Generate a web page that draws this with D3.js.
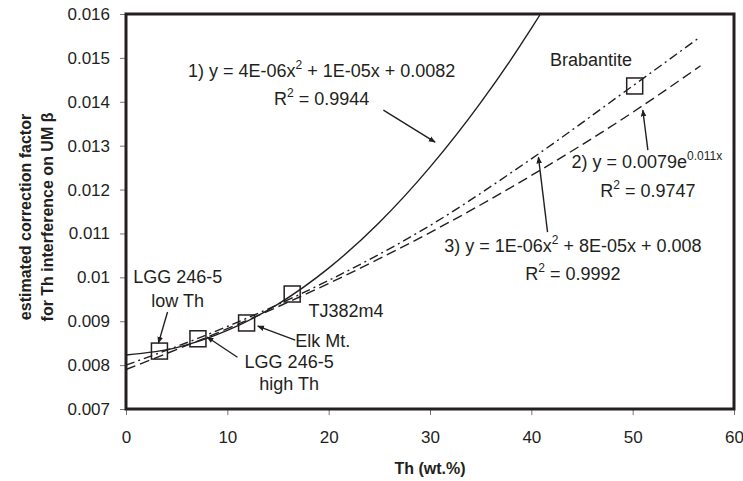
<!DOCTYPE html>
<html>
<head>
<meta charset="utf-8">
<script src="https://cdn.jsdelivr.net/npm/d3@7"></script>
<style>
	body { margin: 0; background: #fff; }
	svg { display: block; font-family: "Liberation Sans", Arial, sans-serif; }
	.axis text { font-size: 17px; fill: #231f20; }
	.axis line { stroke: #777; }
	.note { font-size: 18px; fill: #231f20; }
	.title { font-size: 16px; font-weight: bold; fill: #231f20; }
</style>
</head>
<body>
<svg id="chart" width="743" height="481"></svg>
<script>
"use strict";

// Tick labels
var xTicks = [0, 10, 20, 30, 40, 50, 60];
var yTicks = [0.007, 0.008, 0.009, 0.010, 0.011, 0.012, 0.013, 0.014, 0.015, 0.016];

// Measured samples (boxes)
var sampleNames = ["LGG 246-5 low Th", "LGG 246-5 high Th", "Elk Mt.", "TJ382m4", "Brabantite"];
var sampleTh = [3.3, 7.1, 11.9, 16.4, 50.2];
var sampleFactor = [0.00832, 0.00860, 0.00896, 0.00962, 0.01436];

// Trend lines
// 1) polynomial, solid
var fit1Th = [0, 5, 10, 15, 20, 25, 30, 35, 40, 40.9];
var fit1Factor = [0.00823, 0.00840, 0.00879, 0.00939, 0.01021, 0.01125, 0.01251, 0.01398, 0.01567, 0.0160];
// 2) exponential, dashed
var fit2Th = [0, 10, 20, 30, 40, 50, 56.7];
var fit2Factor = [0.00790, 0.00883, 0.00986, 0.01102, 0.01232, 0.01376, 0.01482];
// 3) polynomial, dash-dot
var fit3Th = [0, 10, 20, 30, 40, 50, 56.5];
var fit3Factor = [0.00800, 0.00888, 0.00993, 0.01118, 0.01270, 0.01436, 0.01545];

var svg = d3.select("#chart");
var plot = {left: 126, right: 734, top: 14, bottom: 409};

var x = d3.scaleLinear().domain([0, 60]).range([plot.left, plot.right]);
var y = d3.scaleLinear().domain([0.007, 0.016]).range([plot.bottom, plot.top]);

// Axes with outward ticks, no domain line (the frame is drawn separately)
var xAxisElt = svg.append("g")
	.attr("class", "axis")
	.attr("transform", "translate(0," + plot.bottom + ")")
	.call(d3.axisBottom(x).tickValues(xTicks).tickSize(6).tickPadding(16).tickFormat(d3.format("d")));
xAxisElt.select(".domain").remove();

var yAxisElt = svg.append("g")
	.attr("class", "axis")
	.attr("transform", "translate(" + plot.left + ",0)")
	.call(d3.axisLeft(y).tickValues(yTicks).tickSize(6).tickPadding(10)
		.tickFormat(function(d) { return String(+d.toFixed(3)); }));
yAxisElt.select(".domain").remove();

// Plot frame
svg.append("rect")
	.attr("x", plot.left)
	.attr("y", plot.top)
	.attr("width", plot.right - plot.left)
	.attr("height", plot.bottom - plot.top)
	.attr("fill", "none")
	.attr("stroke", "#231f20")
	.attr("stroke-width", 3);

// Trend lines
var line = d3.line()
	.x(function(d) { return x(d[0]); })
	.y(function(d) { return y(d[1]); })
	.curve(d3.curveMonotoneX);

var fits = [
	{th: fit1Th, f: fit1Factor, dash: null},
	{th: fit2Th, f: fit2Factor, dash: "10,5"},
	{th: fit3Th, f: fit3Factor, dash: "9,4,2,4"}
];
fits.forEach(function(fit) {
	svg.append("path")
		.attr("d", line(d3.zip(fit.th, fit.f)))
		.attr("fill", "none")
		.attr("stroke", "#231f20")
		.attr("stroke-width", 1.4)
		.attr("stroke-dasharray", fit.dash);
});

// Sample boxes
var box = 16;
svg.append("g").selectAll("rect")
	.data(d3.zip(sampleTh, sampleFactor))
	.enter()
	.append("rect")
	.attr("x", function(d) { return x(d[0]) - box / 2; })
	.attr("y", function(d) { return y(d[1]) - box / 2; })
	.attr("width", box)
	.attr("height", box)
	.attr("fill", "none")
	.attr("stroke", "#231f20")
	.attr("stroke-width", 1.5);

// Arrow head
svg.append("defs").append("marker")
	.attr("id", "arrow")
	.attr("viewBox", "0 -4 10 8")
	.attr("refX", 9)
	.attr("refY", 0)
	.attr("markerWidth", 7)
	.attr("markerHeight", 6)
	.attr("markerUnits", "userSpaceOnUse")
	.attr("orient", "auto")
	.append("path")
	.attr("d", "M0,-4L10,0L0,4Z")
	.attr("fill", "#231f20");

// Arrows, in data units: [fromTh, fromFactor, toTh, toFactor]
var arrows = [
	[25.4, 0.01381, 30.5, 0.01308],
	[51.5, 0.01290, 51.0, 0.01381],
	[41.6, 0.01103, 40.7, 0.01274],
	[4.1, 0.00921, 3.2, 0.00850],
	[16.7, 0.00857, 13.0, 0.00889],
	[11.0, 0.00818, 8.0, 0.00864]
];
svg.append("g").selectAll("line")
	.data(arrows)
	.enter()
	.append("line")
	.attr("x1", function(d) { return x(d[0]); })
	.attr("y1", function(d) { return y(d[1]); })
	.attr("x2", function(d) { return x(d[2]); })
	.attr("y2", function(d) { return y(d[3]); })
	.attr("stroke", "#231f20")
	.attr("stroke-width", 1.4)
	.attr("marker-end", "url(#arrow)");

// Labels. parts: [text, isSuperscript]
function note(th, factor, anchor, parts) {
	var t = svg.append("text")
		.attr("class", "note")
		.attr("x", x(th))
		.attr("y", y(factor))
		.attr("text-anchor", anchor);
	var up = false;
	parts.forEach(function(p) {
		var s = t.append("tspan").text(p[0]);
		if (p[1] && !up) { s.attr("dy", -8).style("font-size", "12px"); up = true; }
		else if (p[1]) { s.style("font-size", "12px"); }
		else if (up) { s.attr("dy", 8); up = false; }
	});
}

note(19.3, 0.014565, "middle", [["1) y = 4E-06x"], ["2", true], [" + 1E-05x + 0.0082"]]);
note(19.3, 0.013927, "middle", [["R"], ["2", true], [" = 0.9944"]]);
note(51.4, 0.012491, "middle", [["2) y = 0.0079e"], ["0.011x", true]]);
note(51.5, 0.011830, "middle", [["R"], ["2", true], [" = 0.9747"]]);
note(44.1, 0.010577, "middle", [["3) y = 1E-06x"], ["2", true], [" + 8E-05x + 0.008"]]);
note(44.1, 0.009939, "middle", [["R"], ["2", true], [" = 0.9992"]]);

note(45.9, 0.014815, "middle", [[sampleNames[4]]]);
note(5.1, 0.009871, "middle", [["LGG 246-5"]]);
note(5.1, 0.009324, "middle", [["low Th"]]);
note(18.0, 0.009096, "start", [[sampleNames[3]]]);
note(16.7, 0.008413, "start", [[sampleNames[2]]]);
note(16.1, 0.007934, "middle", [["LGG 246-5"]]);
note(16.1, 0.007433, "middle", [["high Th"]]);

// Axis titles
svg.append("text")
	.attr("class", "title")
	.attr("x", (plot.left + plot.right) / 2)
	.attr("y", 474)
	.attr("text-anchor", "middle")
	.text("Th (wt.%)");

var yTitle = svg.append("text")
	.attr("class", "title")
	.attr("transform", "translate(0,217) rotate(-90)")
	.attr("text-anchor", "middle");
yTitle.append("tspan").attr("x", 0).attr("y", 31).text("estimated correction factor");
yTitle.append("tspan").attr("x", 0).attr("y", 53).text("for Th interference on UM \u03b2");
</script>
</body>
</html>
